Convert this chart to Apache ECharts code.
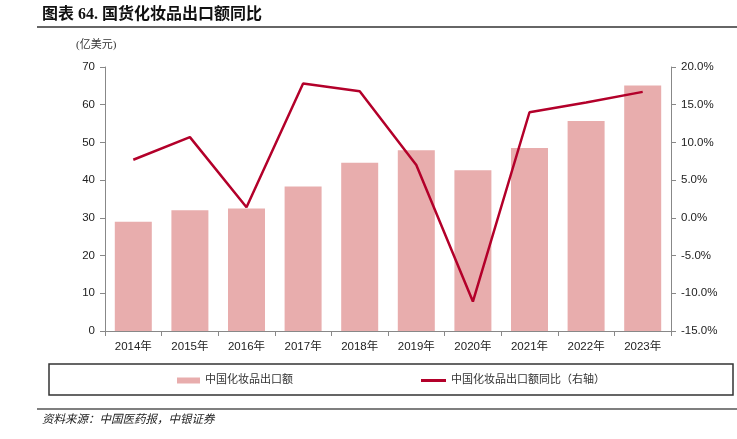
<!DOCTYPE html>
<html><head><meta charset="utf-8">
<script src="https://cdn.jsdelivr.net/npm/echarts@6/dist/echarts.min.js"></script>
<style>html,body{margin:0;padding:0;background:#fff}#c{width:737px;height:439px}</style>
</head><body><div id="c"></div>
<script>
const years = ['2014年','2015年','2016年','2017年','2018年','2019年','2020年','2021年','2022年','2023年'];
const exportValue = [29.0, 32.0, 32.5, 38.3, 44.6, 47.9, 42.6, 48.5, 55.7, 65.1];
const exportYoY = [7.7, 10.7, 1.4, 17.8, 16.8, 7.0, -11.1, 14.0, 15.3, 16.7];
const barName = '中国化妆品出口额';
const lineName = '中国化妆品出口额同比（右轴）';

const chart = echarts.init(document.getElementById('c'));
const latin = "Liberation Sans, Arial, Noto Sans CJK SC, sans-serif";
const serif = "'Liberation Serif', 'Noto Sans CJK SC'";
chart.setOption({
  animation: false,
  grid: {left: 105, right: 66, top: 67, bottom: 108},
  graphic: [
    {type:'text', left: 42, top: 7, style:{text:'图表 64. 国货化妆品出口额同比', font:"bold 16px "+serif, fill:'#111'}},
    {type:'line', shape:{x1:37,y1:27,x2:737,y2:27}, style:{stroke:'#333', lineWidth:1.5}},
    {type:'text', left: 76, top: 40, style:{text:'(亿美元)', font:"11px "+serif, fill:'#333'}},
    {type:'rect', shape:{x:49,y:364,width:684,height:31}, style:{fill:'none', stroke:'#333', lineWidth:1.5}},
    {type:'line', shape:{x1:37,y1:409,x2:737,y2:409}, style:{stroke:'#555', lineWidth:1.5}},
    {type:'text', left: 42, top: 414, style:{text:'资料来源：中国医药报，中银证券', font:"italic 11.5px "+serif, fill:'#222'}}
  ],
  legend: [
    {left: 177, top: 375, padding: 0, itemWidth: 23, itemHeight: 6, itemGap: 4, data:[{name: barName, icon:'rect'}],
     textStyle:{fontSize: 11, color:'#333', fontFamily: serif}},
    {left: 421, top: 375, padding: 0, itemWidth: 25, itemHeight: 3, itemGap: 5, data:[{name: lineName, icon:'rect'}],
     textStyle:{fontSize: 11, color:'#333', fontFamily: serif}}
  ],
  xAxis: {
    type:'category', data: years, boundaryGap: true,
    axisLine:{lineStyle:{color:'#888', width:1}},
    axisTick:{show:true, interval:0, length:5, lineStyle:{color:'#888'}},
    axisLabel:{color:'#222', fontSize:11.5, fontFamily: latin, margin: 10}
  },
  yAxis: [
    {type:'value', min:0, max:70, interval:10, splitLine:{show:false},
     axisLine:{show:true, lineStyle:{color:'#888'}}, axisTick:{show:true, length:5, lineStyle:{color:'#888'}},
     axisLabel:{color:'#222', fontSize:11.5, fontFamily: latin, margin: 10}},
    {type:'value', min:-15, max:20, interval:5, splitLine:{show:false},
     axisLine:{show:true, lineStyle:{color:'#888'}}, axisTick:{show:true, length:5, lineStyle:{color:'#888'}},
     axisLabel:{color:'#222', fontSize:11.5, fontFamily: latin, margin: 10, formatter: v => v.toFixed(1)+'%'}}
  ],
  series: [
    {name: barName, type:'bar', data: exportValue, barWidth: 37, itemStyle:{color:'#E8ADAD'}},
    {name: lineName, type:'line', yAxisIndex:1, data: exportYoY, symbol:'none', smooth:false,
     lineStyle:{color:'#B3002A', width:2.5}, itemStyle:{color:'#B3002A'}}
  ]
});
</script></body></html>
